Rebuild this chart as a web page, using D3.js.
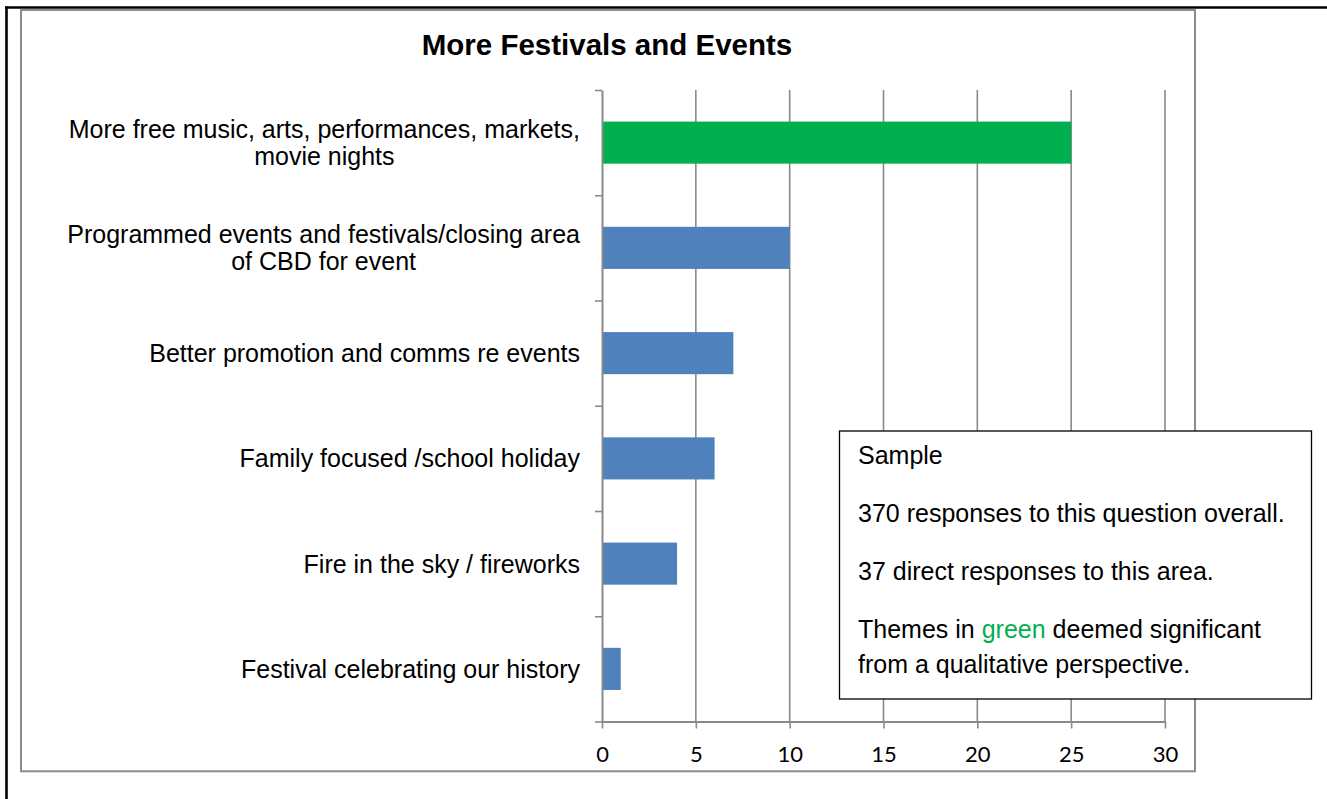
<!DOCTYPE html>
<html>
<head>
<meta charset="utf-8">
<script src="https://cdn.jsdelivr.net/npm/d3@7"></script>
<style>
  body { margin: 0; background: #fff; }
  svg { display: block; }
</style>
</head>
<body>
<svg id="chart" width="1327" height="799"></svg>
<script>
// ---- data ----
const title = "More Festivals and Events";

// categories top to bottom, split where the original label wraps
const categories = [
  ["More free music, arts, performances, markets,", "movie nights"],
  ["Programmed events and festivals/closing area", "of CBD for event"],
  ["Better promotion and comms re events"],
  ["Family focused /school holiday"],
  ["Fire in the sky / fireworks"],
  ["Festival celebrating our history"]
];
const values = [25, 10, 7, 6, 4, 1];
const significant = [true, false, false, false, false, false];
const xTicks = [0, 5, 10, 15, 20, 25, 30];

// note box paragraphs, {..} marks the green word
const notes = [
  ["Sample"],
  ["370 responses to this question overall."],
  ["37 direct responses to this area."],
  ["Themes in {green} deemed significant", "from a qualitative perspective."]
];

// ---- layout ----
const svg = d3.select("#chart");
const plotLeft = 602, plotRight = 1165;
const plotTop = 90, plotBottom = 721.5;
const gridColor = "#8a8a8a";
const labelFont = "'Liberation Sans', Arial, Helvetica, sans-serif";
const tickFont = "Lato, 'Open Sans', sans-serif";

// page border (black) and chart frame (gray)
svg.append("line")
  .attr("x1", 6.5).attr("x2", 6.5).attr("y1", 6.5).attr("y2", 799)
  .attr("stroke", "#000").attr("stroke-width", 2.6);
svg.append("line")
  .attr("x1", 5).attr("x2", 1327).attr("y1", 7.5).attr("y2", 7.5)
  .attr("stroke", "#000").attr("stroke-width", 2.4);

svg.append("rect")
  .attr("x", 21).attr("y", 10)
  .attr("width", 1174).attr("height", 761.3)
  .attr("fill", "none")
  .attr("stroke", "#8c8c8c")
  .attr("stroke-width", 2);

// title
svg.append("text")
  .attr("x", 607)
  .attr("y", 55)
  .attr("text-anchor", "middle")
  .style("font-family", labelFont)
  .style("font-weight", "bold")
  .style("font-size", "29.5px")
  .text(title);

// ---- scales ----
const x = d3.scaleLinear()
  .domain([0, 30])
  .range([plotLeft, plotRight]);

const y = d3.scaleBand()
  .domain(d3.range(categories.length))
  .range([plotTop, plotBottom])
  .paddingInner(0.6)
  .paddingOuter(0.3);

// category boundaries, for the left axis ticks
const yEdge = d3.scaleLinear()
  .domain([0, categories.length])
  .range([plotTop, plotBottom]);

// ---- gridlines ----
svg.append("g")
  .selectAll("line")
  .data(xTicks.filter(d => d > 0))
  .enter()
  .append("line")
    .attr("x1", d => x(d)).attr("x2", d => x(d))
    .attr("y1", plotTop).attr("y2", plotBottom)
    .attr("stroke", gridColor)
    .attr("stroke-width", 1.6);

// ---- bars ----
svg.append("g")
  .selectAll("rect")
  .data(values)
  .enter()
  .append("rect")
    .attr("x", x(0))
    .attr("y", (d, i) => y(i))
    .attr("width", d => x(d) - x(0))
    .attr("height", y.bandwidth())
    .attr("fill", (d, i) => significant[i] ? "#00B050" : "#4F81BD");

// ---- axes ----
const xAxis = svg.append("g")
  .attr("transform", `translate(0, ${plotBottom})`)
  .call(d3.axisBottom(x).tickValues(xTicks).tickSize(7).tickSizeOuter(0));

xAxis.select(".domain").attr("stroke", gridColor).attr("stroke-width", 2);
xAxis.selectAll(".tick line").attr("stroke", gridColor).attr("stroke-width", 1.6);
xAxis.selectAll(".tick text")
  .attr("dy", null)
  .attr("y", 40.5)
  .style("font-family", tickFont)
  .style("font-size", "22px")
  .attr("fill", "#000");

const yAxis = svg.append("g")
  .attr("transform", `translate(${plotLeft}, 0)`)
  .call(d3.axisLeft(yEdge).tickValues(d3.range(categories.length + 1)).tickFormat("").tickSize(7).tickSizeOuter(0));

yAxis.select(".domain").attr("stroke", gridColor).attr("stroke-width", 2);
yAxis.selectAll(".tick line").attr("stroke", gridColor).attr("stroke-width", 1.6);

// ---- category labels (right aligned block, lines centred) ----
const labelSize = 25;
const lineStep = 27;

categories.forEach((lines, i) => {
  const cy = y(i) + y.bandwidth() / 2;
  const g = svg.append("g");
  const texts = g.selectAll("text")
    .data(lines)
    .enter()
    .append("text")
      .attr("x", 0)
      .attr("y", (d, k) => (k - (lines.length - 1) / 2) * lineStep + labelSize * 0.36)
      .attr("text-anchor", "middle")
      .style("font-family", labelFont)
      .style("font-size", labelSize + "px")
      .attr("fill", "#000")
      .text(d => d);

  let maxW = 0;
  texts.each(function() { maxW = Math.max(maxW, this.getComputedTextLength()); });
  g.attr("transform", `translate(${580 - maxW / 2}, ${cy})`);
});

// ---- note box ----
svg.append("rect")
  .attr("x", 839.5).attr("y", 431)
  .attr("width", 472).attr("height", 268)
  .attr("fill", "#fff")
  .attr("stroke", "#000")
  .attr("stroke-width", 1.3);

let lineY = 463.5;
notes.forEach(par => {
  par.forEach((line, k) => {
    const t = svg.append("text")
      .attr("x", 858)
      .attr("y", lineY)
      .style("font-family", labelFont)
      .style("font-size", "25px")
      .attr("fill", "#000");

    line.split(/(\{[^}]*\})/).filter(s => s.length).forEach(part => {
      const green = part.startsWith("{");
      t.append("tspan")
        .attr("fill", green ? "#00B050" : "#000")
        .text(green ? part.slice(1, -1) : part);
    });

    lineY += (k < par.length - 1) ? 35 : 0;
  });
  lineY += 58.3;
});
</script>
</body>
</html>
